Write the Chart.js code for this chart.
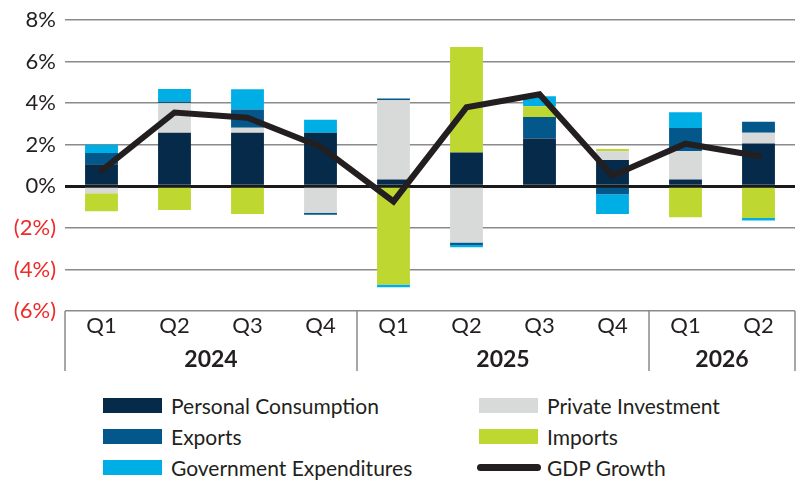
<!DOCTYPE html>
<html>
<head>
<meta charset="utf-8">
<script src="https://cdn.jsdelivr.net/npm/chart.js@4"></script>
<style>
  body { margin: 0; background: #fff; font-family: Lato, sans-serif; }
  #wrap { position: relative; width: 800px; height: 485px; }
  #chartBox { position: absolute; left: 0; top: 0; width: 800px; height: 390px; }
  #legend {
    position: absolute; left: 103px; top: 390px;
    display: grid; grid-template-columns: 376px auto; grid-auto-rows: 31px;
  }
  .item { display: flex; align-items: center; font-size: 21px; color: #231f20; }
  .swatch { width: 59px; height: 15px; margin-right: 9px; }
  .swatch.line { height: 7px; border-radius: 4px; margin-left: -2px; margin-right: 6px; width: 64px; }
</style>
</head>
<body>
<div id="wrap">
  <div id="chartBox"><canvas id="gdpChart"></canvas></div>
  <div id="legend"></div>
</div>
<script>
const quarters = ["Q1", "Q2", "Q3", "Q4", "Q1", "Q2", "Q3", "Q4", "Q1", "Q2"];
const years = ["2024", "2025", "2026"];
const yearCounts = [4, 4, 2];

const personalConsumption = [1.06, 2.57, 2.57, 2.57, 0.33, 1.62, 2.3, 1.27, 0.33, 2.06];
const privateInvestment = [-0.33, 1.43, 0.25, -1.27, 3.81, -2.7, 0, 0.42, 1.37, 0.51];
const exportsData = [0.54, 0.08, 0.87, -0.1, 0.08, -0.13, 1.03, -0.38, 1.1, 0.54];
const importsData = [-0.87, -1.14, -1.33, 0, -4.73, 5.08, 0.52, 0.1, -1.49, -1.52];
const govExpenditures = [0.4, 0.6, 0.98, 0.63, -0.13, -0.1, 0.48, -0.95, 0.76, -0.13];
const gdpGrowth = [0.75, 3.55, 3.3, 1.9, -0.73, 3.8, 4.43, 0.51, 2.05, 1.46];

const yTicks = [-6, -4, -2, 0, 2, 4, 6, 8];

const colors = {
  pc: "#062a49",
  pi: "#d8dad9",
  ex: "#04578a",
  im: "#bed831",
  gov: "#00aee6",
  gdp: "#231f20",
};

function bar(label, data, color) {
  return {
    type: "bar",
    label: label,
    data: data,
    backgroundColor: color,
    stack: "parts",
    order: 1,
    barPercentage: 0.45,
    categoryPercentage: 1,
  };
}

const datasets = [
  bar("Personal Consumption", personalConsumption, colors.pc),
  bar("Private Investment", privateInvestment, colors.pi),
  bar("Exports", exportsData, colors.ex),
  bar("Imports", importsData, colors.im),
  bar("Government Expenditures", govExpenditures, colors.gov),
  {
    type: "line",
    label: "GDP Growth",
    data: gdpGrowth,
    borderColor: colors.gdp,
    borderWidth: 6,
    borderCapStyle: "round",
    pointRadius: 0,
    tension: 0,
    stack: "gdp",
    order: 0,
  },
];

// year labels and group separators under the quarter ticks
const yearGroups = {
  id: "yearGroups",
  afterDraw(chart) {
    const x = chart.scales.x;
    const ctx = chart.ctx;
    const half = (x.getPixelForValue(1) - x.getPixelForValue(0)) / 2;
    const top = chart.chartArea.bottom;
    ctx.save();
    ctx.strokeStyle = "#8a8a8a";
    ctx.lineWidth = 1.5;
    ctx.fillStyle = "#231f20";
    ctx.font = "bold 23px Lato";
    ctx.textAlign = "center";
    ctx.textBaseline = "middle";
    let start = 0;
    const edges = [];
    years.forEach((yr, i) => {
      const end = start + yearCounts[i] - 1;
      const left = x.getPixelForValue(start) - half;
      const right = x.getPixelForValue(end) + half;
      edges.push(left, right);
      ctx.fillText(yr, (left + right) / 2, 360);
      start = end + 1;
    });
    [...new Set(edges.map((e) => Math.round(e)))].forEach((e) => {
      ctx.beginPath();
      ctx.moveTo(e, top);
      ctx.lineTo(e, 371);
      ctx.stroke();
    });
    ctx.restore();
  },
};

const ctx1 = document.getElementById("gdpChart").getContext("2d");
new Chart(ctx1, {
  data: { labels: quarters, datasets: datasets },
  options: {
    responsive: true,
    maintainAspectRatio: false,
    animation: false,
    layout: { padding: { top: 17, right: 5, left: 0, bottom: 0 } },
    plugins: { legend: { display: false }, tooltip: { enabled: false } },
    scales: {
      x: {
        stacked: true,
        grid: { display: false, drawTicks: false },
        border: { display: false },
        ticks: {
          color: "#231f20",
          font: { family: "Lato", size: 22, lineHeight: 1 },
          padding: 4,
          maxRotation: 0,
        },
        afterFit: (scale) => { scale.height = 79; },
      },
      y: {
        stacked: true,
        min: -6,
        max: 8,
        afterBuildTicks: (scale) => { scale.ticks = yTicks.map((v) => ({ value: v })); },
        border: { display: false },
        grid: {
          drawTicks: false,
          color: (c) => (c.tick.value === 0 ? "#1a1a1a" : "#8a8a8a"),
          lineWidth: (c) => (c.tick.value === 0 ? 3 : 1.5),
        },
        ticks: {
          padding: 9,
          font: { family: "Lato", size: 22, lineHeight: 1 },
          color: (c) => (c.tick.value < 0 ? "#ee2a2a" : "#231f20"),
          callback: (v) => (v < 0 ? `(${-v}%)` : `${v}%`),
        },
        afterFit: (scale) => { scale.width = 65; },
      },
    },
  },
  plugins: [yearGroups],
});

// Legend in two columns, filled row by row
const legendBox = document.getElementById("legend");
datasets.forEach((ds) => {
  const item = document.createElement("div");
  item.className = "item";
  const sw = document.createElement("span");
  sw.className = ds.type === "line" ? "swatch line" : "swatch";
  sw.style.background = ds.type === "line" ? ds.borderColor : ds.backgroundColor;
  item.appendChild(sw);
  item.appendChild(document.createTextNode(ds.label));
  legendBox.appendChild(item);
});
</script>
</body>
</html>
